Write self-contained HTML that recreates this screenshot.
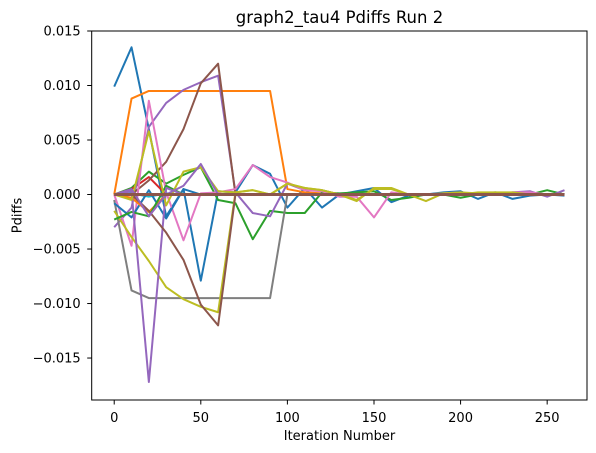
<!DOCTYPE html>
<html><head><meta charset="utf-8"><style>
html,body{margin:0;padding:0;background:#fff;}
svg{display:block;font-family:"DejaVu Sans","Liberation Sans",sans-serif;}
</style></head><body>
<svg id="chart" width="596" height="453" viewBox="0 0 596 453" xmlns="http://www.w3.org/2000/svg">
<rect width="596" height="453" fill="#fff"/>
<text x="339.5" y="23" font-size="16.5" text-anchor="middle" fill="#000">graph2_tau4 Pdiffs Run 2</text>
<text x="339.5" y="440" font-size="13" text-anchor="middle" fill="#000">Iteration Number</text>
<text transform="translate(21.5,215.5) rotate(-90)" font-size="13" text-anchor="middle" fill="#000">Pdiffs</text>
<g id="lines"></g>
<g id="axes"></g>
</svg>
<script>
// values in units of 1e-3
const iterations = [0,10,20,30,40,50,60,70,80,90,100,110,120,130,140,150,160,170,180,190,200,210,220,230,240,250,260];
const xTicks = [0,50,100,150,200,250];
const yTicks = [-0.015,-0.010,-0.005,0.000,0.005,0.010,0.015];
const yTickLabels = ["\u22120.015","\u22120.010","\u22120.005","0.000","0.005","0.010","0.015"];
const colors = ["#1f77b4","#ff7f0e","#2ca02c","#d62728","#9467bd","#8c564b","#e377c2","#7f7f7f","#bcbd22","#17becf"];
const s0 = [9.9,13.5,6,-2,0.5,-7.9,0.3,0.2,2.7,1.9,-1.2,0.6,-1.2,0,0.3,0.6,-0.7,-0.1,0,0.2,0.3,-0.4,0.2,-0.4,-0.1,0,-0.1];
const s1 = [0,8.8,9.5,9.5,9.5,9.5,9.5,9.5,9.5,9.5,0.5,0.2,0.1,0,0,0,0,0,0,0,0,0,0,0,0,0,0];
const s2 = [0,0.6,2.1,1,1.8,2.5,-0.5,-0.8,-4.1,-1.5,-1.7,-1.7,0.2,0.1,0.2,0.3,-0.5,-0.3,0,0,-0.3,0,0.1,0,0,0.4,0];
const s3 = [0,0.5,1.6,0,0,0,0,0,0,0,0,0,0,0,0,0,0,0,0,0,0,0,0,0,0,0,0];
const s4 = [-3,-1.2,6.2,8.4,9.6,10.3,10.9,0.2,-1.7,-2,1,0.4,0.4,0,0,0,0,0,0,0,0,0,0,0.2,0.3,-0.2,0.4];
const s5 = [0,0,1.3,3,6,10.2,12,0,0,0,0,0,0,0,0,0,0,0,0,0,0,0,0,0,0,0,0];
const s6 = [0,-4.7,8.6,0.2,-4.2,0.1,0.2,0.5,2.7,1.6,1.1,0.4,0.3,-0.2,-0.2,-2.1,0.2,0,0,0.1,0.2,0,0,0.2,0.2,0,0];
const s7 = [-0.5,-8.8,-9.5,-9.5,-9.5,-9.5,-9.5,-9.5,-9.5,-9.5,0,0,0,0,0,0,0,0,0,0,0,0,0,0,0,0,0];
const s8 = [-1.5,-3.9,-6.1,-8.5,-9.6,-10.3,-10.8,0.2,0.4,0,1,0.6,0.4,0,-0.6,0.6,0.6,0,-0.6,0.1,0,0.2,0.2,0.2,0,0,0];
const s9 = [0,0.1,-0.2,0.1,0,0,0,0,0,0,0,0,0,0,0,0,0,0,0,0,0,0,0,0,0,0,0];
const s10 = [-0.8,-2.1,0.4,-2.2,0.5,0,0,0,0,0,0,0,0,0,0,0,0,0,0,0,0,0,0,0,0,0,0];
const s11 = [0,-0.3,-1.6,0,0,0,0,0,0,0,0,0,0,0,0,0,0,0,0,0,0,0,0,0,0,0,0];
const s12 = [-2.3,-1.6,-2,0.8,0,0,0,0,0,0,0,0,0,0,0,0,0,0,0,0,0,0,0,0,0,0,0];
const s13 = [0,0,0,0,0,0,0,0,0,0,0,0,0,0,0,0,0,0,0,0,0,0,0,0,0,0,0];
const s14 = [0,0.3,-17.2,0.6,0,0,0,0,0,0,0,0,0,0,0,0,0,0,0,0,0,0,0,0,0,0,0];
const s15 = [0,0,-1.5,-3.5,-6,-10.1,-12,0,0,0,0,0,0,0,0,0,0,0,0,0,0,0,0,0,0,0,0];
const s16 = [0,-0.5,5.8,-1,2.1,2.5,0.3,0.2,0.4,0,1,0.6,0.4,0,-0.5,0.5,0.5,0,0,0.1,0.2,0.1,0.2,0.1,0,0,0];
const s17 = [0,0.5,-2,0,0.8,2.8,0,0,0,0,0,0,0,0,0,0,0,0,0,0,0,0,0,0,0,0,0];
const s18 = [0,0,0,0,0,0,0,0,0,0,0,0,0,0,0,0,0,0,0,0,0,0,0,0,0,0,0];
const s19 = [0,0,0,0,0,0,0,0,0,0,0,0,0,0,0,0,0,0,0,0,0,0,0,0,0,0,0];
const series = [s0,s1,s2,s3,s4,s5,s6,s7,s8,s9,s10,s11,s12,s13,s14,s15,s16,s17,s18,s19];
const colorIdx = [0,1,2,3,4,5,6,7,8,9,0,1,2,3,4,5,8,4,7,5];

const L=91.7,R=587,T=31,B=400;
const xMin=-13,xMax=273,yMin=-0.01885,yMax=0.0150;
const xs=v=>L+(v-xMin)/(xMax-xMin)*(R-L);
const ys=v=>B-(v-yMin)/(yMax-yMin)*(B-T);
const NS="http://www.w3.org/2000/svg";
const lg=document.getElementById('lines');
series.forEach((s,k)=>{
  const p=document.createElementNS(NS,'polyline');
  p.setAttribute('points',s.map((v,i)=>xs(iterations[i]).toFixed(2)+','+ys(v/1000).toFixed(2)).join(' '));
  p.setAttribute('fill','none');
  p.setAttribute('stroke',colors[colorIdx[k]]);
  p.setAttribute('stroke-width',k>=18?'3':'2');
  p.setAttribute('stroke-linejoin','round');
  
  
  lg.appendChild(p);
});
const ag=document.getElementById('axes');
const fr=document.createElementNS(NS,'rect');
fr.setAttribute('x',L);fr.setAttribute('y',T);fr.setAttribute('width',R-L);fr.setAttribute('height',B-T);
fr.setAttribute('fill','none');fr.setAttribute('stroke','#000');fr.setAttribute('stroke-width','1');


ag.appendChild(fr);
xTicks.forEach(t=>{
  const x=xs(t);
  const l=document.createElementNS(NS,'line');
  l.setAttribute('x1',x);l.setAttribute('x2',x);l.setAttribute('y1',B);l.setAttribute('y2',B+4.5);l.setAttribute('stroke','#000');
  
  
  ag.appendChild(l);
  const tx=document.createElementNS(NS,'text');
  tx.setAttribute('x',x);tx.setAttribute('y',B+22);tx.setAttribute('font-size','13');tx.setAttribute('text-anchor','middle');
  tx.textContent=t;
  
  
  ag.appendChild(tx);
});
yTicks.forEach((t,i)=>{
  const y=ys(t);
  const l=document.createElementNS(NS,'line');
  l.setAttribute('x1',L-4.5);l.setAttribute('x2',L);l.setAttribute('y1',y);l.setAttribute('y2',y);l.setAttribute('stroke','#000');
  
  
  ag.appendChild(l);
  const tx=document.createElementNS(NS,'text');
  tx.setAttribute('x',L-11);tx.setAttribute('y',y+4.7);tx.setAttribute('font-size','13');tx.setAttribute('text-anchor','end');
  tx.textContent=yTickLabels[i];
  
  
  ag.appendChild(tx);
});
</script>
</body></html>
